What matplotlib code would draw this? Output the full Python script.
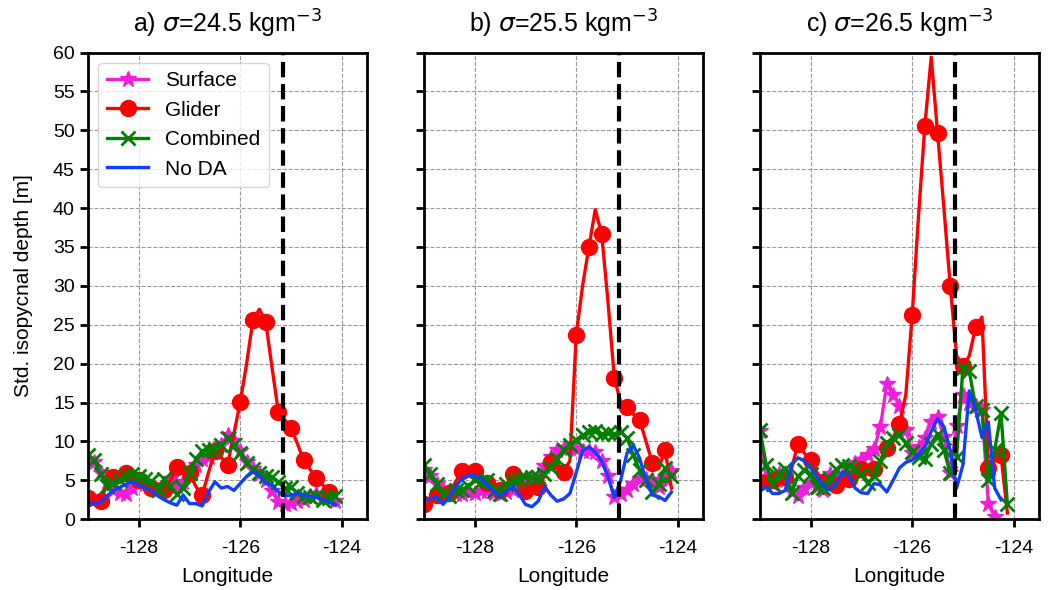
import numpy as np
import matplotlib
matplotlib.use("Agg")
import matplotlib.pyplot as plt

plt.rcParams['font.family'] = ['Liberation Sans', 'DejaVu Sans']
plt.rcParams['axes.unicode_minus'] = False

nan = np.nan

# longitudes of the section
lon = [-129.0, -128.875, -128.75, -128.625, -128.5, -128.375, -128.25, -128.125,
       -128.0, -127.875, -127.75, -127.625, -127.5, -127.375, -127.25, -127.125,
       -127.0, -126.875, -126.75, -126.625, -126.5, -126.375, -126.25, -126.125,
       -126.0, -125.875, -125.75, -125.625, -125.5, -125.375, -125.25, -125.125,
       -125.0, -124.875, -124.75, -124.625, -124.5, -124.375, -124.25, -124.125]

# sigma = 24.5
surf_a = [7.6, 7.3, 6.0, 4.8, 3.8, 3.4, 3.2, 4.0, 4.6, 4.5, 4.2, 3.8, 4.3, 5.2, 4.3, 4.8,
          5.8, 7.0, 7.7, 8.0, 8.6, 9.6, 10.8, 10.0, 8.8, 7.4, 6.4, 5.8, 5.0, 3.6, 2.2, 2.0,
          2.1, 2.3, 2.5, 3.0, 3.3, 2.8, 2.8, 2.4]
glider_a = [2.7, 2.6, 2.4, 4.5, 5.4, 5.6, 5.95, 5.5, 5.0, 4.5, 4.0, 3.8, 3.7, 5.0, 6.7, 6.5,
            5.9, 4.2, 3.1, 6.0, 8.8, 8.0, 7.0, 11.0, 15.1, 20.0, 25.6, 27.0, 25.4, 19.5, 13.8, 12.8,
            11.7, 9.7, 7.6, 6.4, 5.3, 4.4, 3.5, 3.2]
comb_a = [8.3, 7.6, 5.8, 4.3, 4.6, 5.0, 5.6, 5.8, 5.5, 5.2, 4.9, 3.8, 5.2, 4.3, 3.2, 4.0,
          6.0, 7.7, 8.8, 8.9, 9.0, 9.5, 10.4, 9.6, 8.5, 7.2, 6.4, 6.0, 5.6, 5.4, 4.8, 4.0,
          4.1, 3.4, 3.0, 2.8, 3.0, 2.5, 2.7, 3.0]
noda_a = [2.2, 1.9, 2.2, 3.0, 3.7, 4.1, 4.5, 4.8, 4.4, 4.0, 3.6, 3.0, 2.5, 2.1, 1.8, 3.1,
          2.0, 2.0, 1.7, 3.5, 4.8, 4.0, 4.2, 3.7, 4.6, 5.5, 6.1, 5.6, 4.6, 4.4, 3.5, 3.0,
          3.1, 3.3, 3.1, 2.9, 2.8, 2.5, 2.2, 1.8]

# sigma = 25.5
surf_b = [6.3, 5.6, 4.5, 3.7, 3.4, 3.3, 3.3, 3.5, 3.4, 3.6, 3.6, 3.4, 3.3, 3.5, 3.8, 4.6,
          5.1, 5.3, 5.5, 6.8, 8.0, 8.9, 9.2, 9.2, 9.0, 8.8, 8.8, 8.6, 7.5, 5.6, 2.8, 3.2,
          3.7, 4.5, 5.2, 5.2, 5.0, 4.2, 5.3, 6.2]
glider_b = [2.0, 2.6, 3.1, 3.3, 3.4, 4.8, 6.2, 6.3, 6.2, 5.5, 4.6, 4.0, 3.7, 4.5, 5.8, 4.5,
            3.6, 3.8, 4.2, 5.5, 7.4, 7.0, 6.1, 7.5, 23.7, 30.0, 35.0, 39.8, 36.7, 28.0, 18.2, 15.0,
            14.4, 13.5, 12.7, 10.0, 7.2, 6.5, 8.9, 4.0]
comb_b = [7.0, 5.8, 4.5, 3.2, 3.0, 3.7, 3.8, 4.3, 5.0, 4.8, 5.0, 3.6, 3.2, 4.5, 4.9, 5.2,
          5.4, 5.4, 5.4, 5.8, 6.6, 7.8, 8.9, 9.6, 10.2, 10.8, 11.2, 11.4, 10.9, 11.1, 10.9, 11.2,
          10.5, 8.2, 6.3, 5.0, 3.5, 4.5, 6.6, 5.5]
noda_b = [2.7, 2.6, 2.9, 1.9, 2.8, 4.2, 5.2, 5.6, 5.6, 5.2, 4.4, 3.5, 2.9, 3.6, 4.2, 3.2,
          1.9, 1.6, 2.3, 4.2, 3.1, 2.3, 2.6, 3.3, 6.0, 8.8, 9.3, 8.6, 7.5, 5.5, 2.8, 5.0,
          8.5, 9.5, 7.8, 5.0, 3.1, 2.9, 2.4, 3.5]

# sigma = 26.5
surf_c = [11.4, 5.0, 4.5, 5.8, 5.0, 3.5, 3.0, 4.0, 4.6, 4.2, 3.8, 5.8, 5.6, 5.5, 6.5, 7.2,
          7.6, 8.2, 9.0, 11.9, 17.4, 16.0, 14.6, 11.5, 8.5, 9.3, 10.5, 12.5, 13.2, 10.6, 5.9, 12.0,
          16.0, 15.0, 14.5, 14.0, 2.0, 0.3, nan, nan]
glider_c = [4.8, 4.8, 5.0, 5.2, 5.4, 6.5, 9.7, 8.5, 7.6, 6.0, 4.8, 4.5, 4.4, 4.8, 5.2, 6.0,
            6.5, 6.6, 6.5, 7.5, 9.1, 10.5, 12.3, 16.0, 26.2, 39.0, 50.6, 59.4, 49.7, 40.0, 30.0, 21.0,
            19.7, 21.0, 24.7, 26.0, 6.6, 7.5, 8.2, 0.8]
comb_c = [11.5, 7.0, 4.5, 6.0, 6.5, 3.4, 5.5, 6.3, 5.8, 4.2, 4.0, 5.2, 6.4, 7.0, 6.8, 6.5,
          5.8, 4.6, 5.5, 7.5, 9.8, 10.5, 10.8, 9.8, 8.7, 8.0, 7.8, 9.7, 11.0, 8.9, 5.9, 8.0,
          19.5, 19.0, 14.5, 14.0, 5.0, 8.9, 13.6, 2.0]
noda_c = [3.6, 4.2, 3.3, 3.3, 3.7, 7.0, 7.9, 7.5, 6.6, 5.5, 4.3, 3.8, 4.6, 6.0, 5.7, 4.0,
          3.4, 3.3, 4.6, 4.4, 3.5, 5.0, 6.6, 7.3, 7.6, 8.3, 9.3, 11.3, 12.9, 11.9, 8.8, 4.0,
          7.0, 16.5, 14.0, 10.5, 12.5, 4.0, 2.5, nan]

titles = [r'a) $\sigma$=24.5 kgm$^{-3}$',
          r'b) $\sigma$=25.5 kgm$^{-3}$',
          r'c) $\sigma$=26.5 kgm$^{-3}$']
shelf_lon = -125.15

panels = [(surf_a, glider_a, comb_a, noda_a),
          (surf_b, glider_b, comb_b, noda_b),
          (surf_c, glider_c, comb_c, noda_c)]

fig, axs = plt.subplots(1, 3, figsize=(10.56, 5.9), dpi=100, sharey=True)
fig.subplots_adjust(left=0.0833, right=0.984, bottom=0.12, top=0.911, wspace=0.203)

for ax, title, (surf, glider, comb, noda) in zip(axs, titles, panels):
    ax.plot(lon, surf, '-*', color='#f01ed8', lw=2.4, ms=12, label='Surface')
    ax.plot(lon, glider, '-o', color='red', lw=2.4, ms=11.5, markevery=2, label='Glider')
    ax.plot(lon, comb, '-x', color='green', lw=2.4, ms=10, mew=2, label='Combined')
    ax.plot(lon, noda, '-', color='#1040ff', lw=2.4, label='No DA')
    ax.axvline(shelf_lon, color='k', ls='--', lw=3)

    ax.grid(True, ls='--', color='gray', alpha=0.8)
    ax.set_xlim(-129, -123.5)
    ax.set_ylim(0, 60)
    ax.set_xticks([-128, -126, -124])
    ax.set_yticks(range(0, 61, 5))
    ax.set_title(title, fontsize=18, pad=14)
    ax.set_xlabel('Longitude', fontsize=15, labelpad=7)
    for s in ax.spines.values():
        s.set_linewidth(2)
    ax.tick_params(width=2, length=6, labelsize=14)
    ax.tick_params(axis='x', pad=9)

axs[0].set_ylabel('Std. isopycnal depth [m]', fontsize=15, labelpad=14)
axs[0].legend(loc='upper left', fontsize=15)

fig.savefig('out.png')
